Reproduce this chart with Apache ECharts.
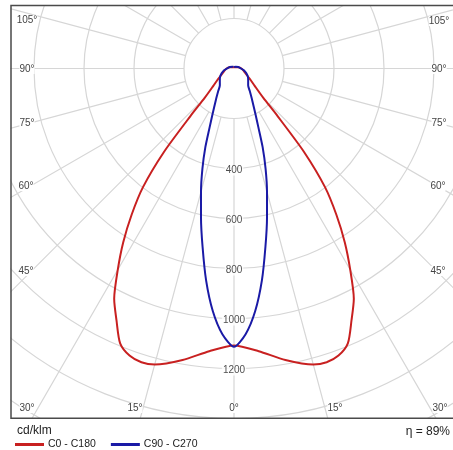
<!DOCTYPE html>
<html><head><meta charset="utf-8">
<script src="https://cdn.jsdelivr.net/npm/echarts@6/dist/echarts.min.js"></script>
<style>html,body{margin:0;padding:0;background:#fff}#c{width:453px;height:450px}</style>
</head><body><div id="c"></div>
<script>
// ---- data (cd/klm vs gamma angle, degrees from nadir) ----
const gammaRed = [0,5,10,15,17.5,20,22.5,25,27.5,30,32.5,35,37.5,40,42.5,45,50,55,60,70,80,90,105,120,150,180];
const c0   = [1108,1135,1184,1226,1232,1222,1190,1112,1038,930,825,714,598,437,257,165,108,82,64,46,37,30,18,10,6,5];
const c180 = [1108,1135,1184,1226,1232,1222,1190,1112,1038,930,825,714,598,437,257,165,108,82,64,46,37,30,18,10,6,5];
const gammaBlue = [0,2.5,5,7.5,10,12.5,15,17.5,20,22.5,25,30,35,40,50,60,70,80,90,110,135,160,180];
const c90  = [1113,1064,974,855,724,610,510,420,335,255,205,145,110,88,74,64,52,40,28,18,10,7,6];
const c270 = [1113,1064,974,855,724,610,510,420,335,255,205,145,110,88,74,64,52,40,28,18,10,7,6];
const ringLabels = [400,600,800,1000,1200];
const leftAngleLabels = ['105°','90°','75°','60°','45°'];
const rightAngleLabels = ['105°','90°','75°','60°','45°'];
const bottomAngleLabels = ['30°','15°','0°','15°','30°'];
const unitText = 'cd/klm';
const etaText = 'η = 89%';
const seriesNames = ['C0 - C180','C90 - C270'];

// ---- layout ----
const CX = 234, CY = 68.5;
const leftPos = [[27,20],[27,69],[27,123],[26,186],[26,271]];
const rightPos = [[439,21],[439,69],[439,123],[438,186],[438,271]];
const bottomPos = [[27,408],[135,408],[234,408],[335,408],[440,408]];

function loop(g, right, left) {
  const pts = [];
  for (let i = g.length - 1; i >= 1; i--) pts.push([right[i], 360 - g[i]]);
  for (let i = 0; i < g.length; i++) pts.push([left[i], g[i]]);
  return pts;
}

const chart = echarts.init(document.getElementById('c'), null, {renderer: 'canvas'});
const gridColor = '#d6d6d6';
const txt = (t, x, y, opts) => Object.assign({
  type: 'text', z: 200, x: x, y: y,
  style: Object.assign({text: t, fill: '#444', font: '10px "Liberation Sans", Arial, sans-serif', align: 'center', verticalAlign: 'middle'}, opts || {})
});

const graphics = [
  {type: 'rect', z: 100, shape: {x: 0, y: 0, width: 10.5, height: 450}, style: {fill: '#fff'}},
  {type: 'rect', z: 100, shape: {x: 0, y: 0, width: 453, height: 5}, style: {fill: '#fff'}},
  {type: 'rect', z: 100, shape: {x: 0, y: 418.5, width: 453, height: 32}, style: {fill: '#fff'}},
  {type: 'rect', z: 150, shape: {x: 11, y: 5.5, width: 460, height: 412.8}, style: {fill: 'none', stroke: '#4a4a4a', lineWidth: 1.5}}
];
leftAngleLabels.forEach((t, i) => graphics.push(txt(t, leftPos[i][0], leftPos[i][1], {backgroundColor: '#fff'})));
rightAngleLabels.forEach((t, i) => graphics.push(txt(t, rightPos[i][0], rightPos[i][1], {backgroundColor: '#fff'})));
bottomAngleLabels.forEach((t, i) => graphics.push(txt(t, bottomPos[i][0], bottomPos[i][1], {backgroundColor: '#fff'})));
graphics.push(txt(unitText, 17, 431, {align: 'left', fill: '#222', font: '12px "Liberation Sans", Arial, sans-serif'}));
graphics.push(txt(etaText, 450, 432, {align: 'right', fill: '#222', font: '12px "Liberation Sans", Arial, sans-serif'}));

const hiddenAngle = {type: 'value', min: 0, max: 360, startAngle: 270, clockwise: true,
  axisLine: {show: false}, axisTick: {show: false}, axisLabel: {show: false}, splitLine: {show: false}};

chart.setOption({
  animation: false,
  backgroundColor: '#fff',
  polar: [
    {center: [CX, CY], radius: [50, 450]},
    {center: [CX, CY], radius: [0, 450]}
  ],
  angleAxis: [
    {polarIndex: 0, type: 'value', min: 0, max: 360, interval: 15, startAngle: 270, clockwise: true,
     axisLine: {show: false}, axisTick: {show: false}, axisLabel: {show: false},
     splitLine: {show: true, lineStyle: {color: gridColor, width: 1.2}}},
    Object.assign({polarIndex: 1}, hiddenAngle)
  ],
  radiusAxis: [
    {polarIndex: 0, type: 'value', min: 200, max: 1800, interval: 200,
     axisLine: {show: false}, axisTick: {show: false}, axisLabel: {show: false},
     splitLine: {show: true, lineStyle: {color: gridColor, width: 1.2}}},
    {polarIndex: 1, type: 'value', min: 0, max: 1800,
     axisLine: {show: false}, axisTick: {show: false}, axisLabel: {show: false}, splitLine: {show: false}}
  ],
  legend: {
    z: 200, left: 15, top: 439, padding: 0, itemWidth: 29, itemHeight: 3, itemGap: 15, icon: 'rect',
    data: seriesNames,
    textStyle: {fontSize: 10.5, color: '#222', fontFamily: '"Liberation Sans", Arial, sans-serif', padding: [0, 0, 0, -1]}
  },
  graphic: {elements: graphics},
  series: [
    {name: seriesNames[0], type: 'line', coordinateSystem: 'polar', polarIndex: 1, data: loop(gammaRed, c0, c180),
     smooth: 0.25, showSymbol: false, lineStyle: {color: '#c82020', width: 2}, itemStyle: {color: '#c82020'}, z: 3},
    {name: seriesNames[1], type: 'line', coordinateSystem: 'polar', polarIndex: 1, data: loop(gammaBlue, c270, c90),
     smooth: 0.25, showSymbol: false, lineStyle: {color: '#1a1aa6', width: 2}, itemStyle: {color: '#1a1aa6'}, z: 4},
    {type: 'scatter', coordinateSystem: 'polar', polarIndex: 1, data: ringLabels.map(v => [v, 0]),
     symbol: 'circle', symbolSize: 2, itemStyle: {color: 'rgba(255,255,255,0)'}, silent: true, z: 5,
     label: {show: true, position: 'inside', offset: [0, 2], formatter: p => String(p.value[0]), color: '#222', fontSize: 10,
       fontFamily: '"Liberation Sans", Arial, sans-serif', backgroundColor: '#fff', padding: [0, 1]}}
  ]
});
</script></body></html>
